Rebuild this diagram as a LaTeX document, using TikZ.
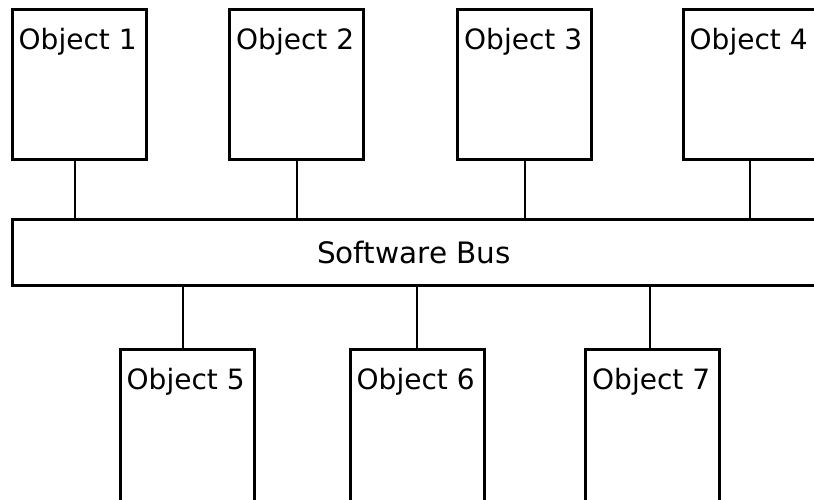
\documentclass[tikz,border=0pt]{standalone}
\usepackage{fontspec}
\setmainfont{DejaVu Sans}
\usepackage{tikz}
\usetikzlibrary{shapes,arrows}
\tikzstyle{object} = [rectangle, sharp corners, draw, line width=3pt,
                     minimum width=134pt, minimum height=150pt, inner sep=0pt]
\tikzstyle{bus} = [rectangle, sharp corners, draw, line width=3pt,
                     minimum width=804pt, minimum height=66pt,
                     font=\fontsize{29.5}{35}\selectfont]
\tikzstyle{link} = [line width=2pt]

\begin{document}
\begin{tikzpicture}[x=1pt, y=-1pt,
objlabel/.style={anchor=base west, xshift=8pt, yshift=-42pt, inner sep=0pt,
                 font=\fontsize{28}{34}\selectfont}]
\clip (0,0) rectangle (814,499);
%Bus
\node[bus] at (414,252) (bus){Software Bus};

%Objects above the bus
\node[object, label={[objlabel]north west:Object 1}] at (79,84) (obj1){};
\node[object, label={[objlabel]north west:Object 2}] at (296.5,84) (obj2){};
\node[object, label={[objlabel]north west:Object 3}] at (524.5,84) (obj3){};
\node[object, label={[objlabel]north west:Object 4}] at (750,84) (obj4){};

%Objects below the bus
\node[object, minimum height=200pt, label={[objlabel]north west:Object 5}] at (187,449) (obj5){};
\node[object, minimum height=200pt, label={[objlabel]north west:Object 6}] at (417,449) (obj6){};
\node[object, minimum height=200pt, label={[objlabel]north west:Object 7}] at (652.5,449) (obj7){};

%Links (not all of them sit at the middle of their box)
\foreach \o/\dx in {obj1/-4,obj2/0,obj3/0.5,obj4/0}
  \draw[link] ([xshift=\dx pt]\o.south) -- ([xshift=\dx pt]\o.south |- bus.north);
\foreach \o/\dx in {obj5/-4,obj6/0,obj7/-2.5}
  \draw[link] ([xshift=\dx pt]bus.south -| \o.north) -- ([xshift=\dx pt]\o.north);
\end{tikzpicture}
\end{document}
